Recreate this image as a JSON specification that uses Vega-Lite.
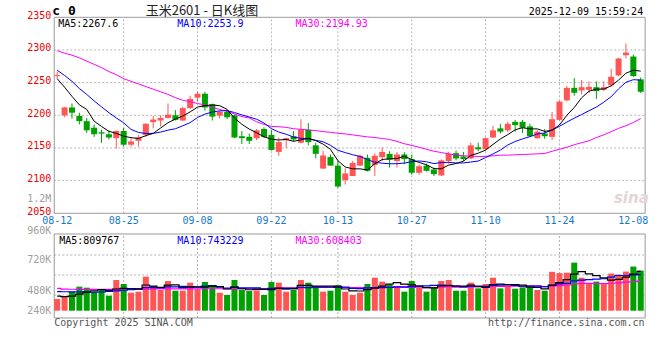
{
"$schema":"https://vega.github.io/schema/vega-lite/v6.json",
"width":660,"height":360,
"autosize":{"type":"none"},
"padding":0,
"background":"#ffffff",
"config":{"view":{"stroke":null},"font":"DejaVu Sans Mono"},
"datasets":{
"one":[{}],
"pl":[{"p":2050},{"p":2100},{"p":2150},{"p":2200},{"p":2250},{"p":2300},{"p":2350}],
"pg":[{"p":2100},{"p":2150},{"p":2200},{"p":2250},{"p":2300}],
"vg":[{"v":323420},{"v":735420},{"v":1147420}],
"vl":[{"t":"240K","v":-6180},{"t":"480K","v":412000},{"t":"720K","v":1038240},{"t":"960K","v":1631520},{"t":"1.2M","v":2294840}],
"k":[
{"i":0,"d":"08-12","o":2260,"h":2267,"l":2256,"c":2261.5,"m5":2256,"m10":2269,"m30":2299,"v":240000,"v5":302000,"v10":392000,"v30":460000},
{"i":1,"d":"08-13","o":2200,"h":2213,"l":2197,"c":2212,"m5":2243,"m10":2261,"m30":2295,"v":302000,"v5":288000,"v10":390000,"v30":445000},
{"i":2,"d":"08-14","o":2212,"h":2218,"l":2195,"c":2204,"m5":2229,"m10":2252,"m30":2292,"v":392000,"v5":302000,"v10":388000,"v30":442000},
{"i":3,"d":"08-15","o":2199,"h":2204,"l":2186,"c":2191,"m5":2216,"m10":2241,"m30":2288,"v":495000,"v5":343000,"v10":386000,"v30":440000},
{"i":4,"d":"08-18","o":2191,"h":2196,"l":2173,"c":2177,"m5":2209,"m10":2232,"m30":2283,"v":474000,"v5":380600,"v10":384000,"v30":440000},
{"i":5,"d":"08-19","o":2181,"h":2186,"l":2167,"c":2171,"m5":2191,"m10":2222,"m30":2278,"v":392000,"v5":411000,"v10":383000,"v30":440000},
{"i":6,"d":"08-20","o":2174,"h":2178,"l":2158,"c":2172,"m5":2183,"m10":2213,"m30":2273,"v":426000,"v5":435800,"v10":385000,"v30":440000},
{"i":7,"d":"08-21","o":2171,"h":2177,"l":2163,"c":2166,"m5":2175.4,"m10":2204,"m30":2267,"v":309000,"v5":419200,"v10":395000,"v30":441000},
{"i":8,"d":"08-22","o":2165,"h":2177,"l":2149,"c":2176,"m5":2172.4,"m10":2196,"m30":2262,"v":632000,"v5":446600,"v10":410000,"v30":442000},
{"i":9,"d":"08-25","o":2176,"h":2181,"l":2152,"c":2155,"m5":2168,"m10":2188.5,"m30":2256,"v":550000,"v5":461800,"v10":421200,"v30":443000},
{"i":10,"d":"08-26","o":2155,"h":2165,"l":2152,"c":2160,"m5":2165.8,"m10":2178.4,"m30":2252,"v":371000,"v5":457600,"v10":434300,"v30":444000},
{"i":11,"d":"08-27","o":2161,"h":2170,"l":2152,"c":2166,"m5":2164.6,"m10":2173.8,"m30":2248,"v":392000,"v5":450800,"v10":443300,"v30":445000},
{"i":12,"d":"08-28","o":2170,"h":2188,"l":2167,"c":2187,"m5":2168.8,"m10":2172.1,"m30":2244,"v":701000,"v5":529200,"v10":474200,"v30":446000},
{"i":13,"d":"08-29","o":2189.5,"h":2199,"l":2180,"c":2193.5,"m5":2172.3,"m10":2172.4,"m30":2240,"v":508000,"v5":504400,"v10":475500,"v30":447000},
{"i":14,"d":"09-01","o":2192,"h":2200,"l":2183,"c":2196,"m5":2180.5,"m10":2174.3,"m30":2236,"v":426000,"v5":479600,"v10":470700,"v30":448000},
{"i":15,"d":"09-02","o":2196,"h":2218,"l":2195,"c":2201,"m5":2188.7,"m10":2177.3,"m30":2232,"v":611000,"v5":527600,"v10":492600,"v30":449000},
{"i":16,"d":"09-03","o":2200,"h":2208,"l":2192,"c":2193,"m5":2194.1,"m10":2179.4,"m30":2227,"v":412000,"v5":531600,"v10":491200,"v30":450000},
{"i":17,"d":"09-04","o":2192,"h":2213,"l":2191,"c":2211,"m5":2198.9,"m10":2183.9,"m30":2223,"v":412000,"v5":473800,"v10":501500,"v30":450000},
{"i":18,"d":"09-05","o":2211,"h":2230,"l":2210,"c":2225,"m5":2205.2,"m10":2188.8,"m30":2221,"v":577000,"v5":487600,"v10":496000,"v30":451000},
{"i":19,"d":"09-08","o":2227,"h":2236,"l":2221,"c":2233,"m5":2212.6,"m10":2196.6,"m30":2218,"v":440000,"v5":490400,"v10":485000,"v30":451000},
{"i":20,"d":"09-09","o":2233,"h":2236,"l":2207,"c":2212,"m5":2214.8,"m10":2201.8,"m30":2216,"v":591000,"v5":486400,"v10":507000,"v30":452000},
{"i":21,"d":"09-10","o":2217,"h":2218,"l":2192,"c":2198,"m5":2215.8,"m10":2205,"m30":2212,"v":508000,"v5":505600,"v10":518600,"v30":452000},
{"i":22,"d":"09-11","o":2199.5,"h":2207,"l":2195,"c":2205.5,"m5":2214.7,"m10":2206.8,"m30":2209,"v":371000,"v5":497400,"v10":485600,"v30":452000},
{"i":23,"d":"09-12","o":2205,"h":2207,"l":2194,"c":2197,"m5":2209.1,"m10":2207.2,"m30":2206,"v":323000,"v5":446600,"v10":467100,"v30":453000},
{"i":24,"d":"09-15","o":2200,"h":2201,"l":2165,"c":2166,"m5":2195.7,"m10":2204.2,"m30":2202,"v":632000,"v5":485000,"v10":487700,"v30":453000},
{"i":25,"d":"09-16","o":2168,"h":2176,"l":2156,"c":2165,"m5":2186.3,"m10":2200.6,"m30":2198,"v":426000,"v5":452000,"v10":469200,"v30":453000},
{"i":26,"d":"09-17","o":2167,"h":2172,"l":2156,"c":2161,"m5":2178.9,"m10":2197.4,"m30":2196,"v":405000,"v5":431400,"v10":468500,"v30":454000},
{"i":27,"d":"09-18","o":2165,"h":2179,"l":2162,"c":2177,"m5":2173.2,"m10":2194,"m30":2190,"v":419000,"v5":441000,"v10":469200,"v30":454000},
{"i":28,"d":"09-19","o":2179,"h":2181.5,"l":2165,"c":2167,"m5":2167.2,"m10":2188.2,"m30":2186,"v":323000,"v5":441000,"v10":443800,"v30":454000},
{"i":29,"d":"09-22","o":2170,"h":2177.5,"l":2146,"c":2147,"m5":2163.4,"m10":2179.6,"m30":2183,"v":591000,"v5":432800,"v10":458900,"v30":455000},
{"i":30,"d":"09-23","o":2144,"h":2166,"l":2138,"c":2159,"m5":2162.2,"m10":2174.3,"m30":2182.5,"v":577000,"v5":463000,"v10":457500,"v30":466300},
{"i":31,"d":"09-24","o":2162,"h":2166,"l":2150,"c":2165,"m5":2163,"m10":2171,"m30":2181.5,"v":392000,"v5":460400,"v10":445900,"v30":469300},
{"i":32,"d":"09-25","o":2168,"h":2176,"l":2160,"c":2163,"m5":2160.2,"m10":2166.7,"m30":2179.5,"v":426000,"v5":461800,"v10":451400,"v30":470400},
{"i":33,"d":"09-26","o":2158,"h":2194,"l":2157,"c":2178,"m5":2162.4,"m10":2164.8,"m30":2178.5,"v":632000,"v5":523600,"v10":482300,"v30":475000},
{"i":34,"d":"09-29","o":2178,"h":2188,"l":2154,"c":2159,"m5":2164.8,"m10":2164.1,"m30":2177.5,"v":577000,"v5":520800,"v10":476800,"v30":478400},
{"i":35,"d":"09-30","o":2154,"h":2158,"l":2134,"c":2141,"m5":2161.2,"m10":2161.7,"m30":2176.5,"v":508000,"v5":507000,"v10":485000,"v30":482300},
{"i":36,"d":"10-09","o":2118.5,"h":2146,"l":2118,"c":2138.5,"m5":2155.9,"m10":2159.5,"m30":2175,"v":392000,"v5":507000,"v10":483700,"v30":481100},
{"i":37,"d":"10-10","o":2136,"h":2140,"l":2123,"c":2123,"m5":2147.9,"m10":2154.1,"m30":2174,"v":412000,"v5":504200,"v10":483000,"v30":484600},
{"i":38,"d":"10-13","o":2123,"h":2130,"l":2089,"c":2091,"m5":2130.5,"m10":2146.5,"m30":2172.5,"v":529000,"v5":483600,"v10":503600,"v30":481100},
{"i":39,"d":"10-14","o":2101,"h":2119,"l":2094,"c":2111,"m5":2120.9,"m10":2142.9,"m30":2171.5,"v":392000,"v5":446600,"v10":483700,"v30":475900},
{"i":40,"d":"10-15","o":2107,"h":2130,"l":2107,"c":2127,"m5":2118.1,"m10":2139.7,"m30":2170,"v":323000,"v5":409600,"v10":458300,"v30":474300},
{"i":41,"d":"10-16","o":2123,"h":2140,"l":2122,"c":2138,"m5":2118,"m10":2137,"m30":2168.5,"v":371000,"v5":405400,"v10":456200,"v30":473600},
{"i":42,"d":"10-17","o":2135,"h":2140,"l":2114,"c":2115,"m5":2116.4,"m10":2132.2,"m30":2167,"v":550000,"v5":433000,"v10":468600,"v30":468500},
{"i":43,"d":"10-20","o":2124,"h":2142,"l":2107,"c":2138,"m5":2125.8,"m10":2128.2,"m30":2166,"v":680000,"v5":463200,"v10":473400,"v30":474300},
{"i":44,"d":"10-21","o":2136,"h":2151,"l":2130,"c":2144,"m5":2132.4,"m10":2126.7,"m30":2164.5,"v":598000,"v5":504400,"v10":475500,"v30":480000},
{"i":45,"d":"10-22","o":2141,"h":2145,"l":2120,"c":2132,"m5":2133.4,"m10":2125.8,"m30":2163,"v":550000,"v5":549800,"v10":479700,"v30":478000},
{"i":46,"d":"10-23","o":2130,"h":2144,"l":2120,"c":2140,"m5":2133.8,"m10":2125.9,"m30":2160,"v":508000,"v5":577200,"v10":491300,"v30":481200},
{"i":47,"d":"10-24","o":2140,"h":2143.5,"l":2125,"c":2133,"m5":2137.4,"m10":2126.9,"m30":2156.5,"v":392000,"v5":545600,"v10":489300,"v30":480500},
{"i":48,"d":"10-27","o":2133,"h":2140,"l":2109,"c":2112,"m5":2132.2,"m10":2129,"m30":2154,"v":611000,"v5":531800,"v10":497500,"v30":481600},
{"i":49,"d":"10-28","o":2112,"h":2125,"l":2109,"c":2122,"m5":2127.8,"m10":2130.1,"m30":2151,"v":474000,"v5":507000,"v10":505700,"v30":482800},
{"i":50,"d":"10-29","o":2123,"h":2126,"l":2114,"c":2115,"m5":2124.4,"m10":2128.9,"m30":2148,"v":392000,"v5":475400,"v10":512600,"v30":476100},
{"i":51,"d":"10-30","o":2117,"h":2120,"l":2107,"c":2110,"m5":2118.4,"m10":2126.1,"m30":2145,"v":474000,"v5":468600,"v10":522900,"v30":475000},
{"i":52,"d":"10-31","o":2108,"h":2132.5,"l":2107,"c":2131,"m5":2118,"m10":2127.7,"m30":2143,"v":611000,"v5":512400,"v10":529000,"v30":483000},
{"i":53,"d":"11-03","o":2130,"h":2144,"l":2126,"c":2141,"m5":2123.8,"m10":2128,"m30":2141,"v":632000,"v5":516600,"v10":524200,"v30":493300},
{"i":54,"d":"11-04","o":2142,"h":2146,"l":2131,"c":2134,"m5":2126.2,"m10":2127,"m30":2139,"v":412000,"v5":504200,"v10":505600,"v30":486000},
{"i":55,"d":"11-05","o":2137,"h":2144,"l":2130,"c":2133,"m5":2129.8,"m10":2127.1,"m30":2138,"v":412000,"v5":508200,"v10":491800,"v30":485500},
{"i":56,"d":"11-06","o":2134,"h":2158,"l":2133,"c":2154,"m5":2138.6,"m10":2128.5,"m30":2137.5,"v":577000,"v5":528800,"v10":498700,"v30":491200},
{"i":57,"d":"11-07","o":2151,"h":2158,"l":2145,"c":2148,"m5":2142,"m10":2130,"m30":2137,"v":460000,"v5":498600,"v10":505500,"v30":492600},
{"i":58,"d":"11-10","o":2148,"h":2166,"l":2147,"c":2165,"m5":2146.8,"m10":2135.3,"m30":2137,"v":550000,"v5":482200,"v10":499400,"v30":500200},
{"i":59,"d":"11-11","o":2166,"h":2184,"l":2165,"c":2177,"m5":2155.4,"m10":2140.8,"m30":2138,"v":680000,"v5":535800,"v10":520000,"v30":503100},
{"i":60,"d":"11-12","o":2180,"h":2187,"l":2172,"c":2175,"m5":2163.8,"m10":2146.8,"m30":2139,"v":460000,"v5":545400,"v10":526800,"v30":499200},
{"i":61,"d":"11-13","o":2177,"h":2190,"l":2174,"c":2187,"m5":2170.4,"m10":2154.5,"m30":2139,"v":550000,"v5":540000,"v10":534400,"v30":504500},
{"i":62,"d":"11-14","o":2190,"h":2193,"l":2175,"c":2185,"m5":2177.8,"m10":2159.9,"m30":2139.5,"v":453000,"v5":538600,"v10":518600,"v30":505400},
{"i":63,"d":"11-17","o":2190,"h":2193,"l":2173,"c":2181,"m5":2181,"m10":2163.9,"m30":2140,"v":481000,"v5":524800,"v10":503500,"v30":500400},
{"i":64,"d":"11-18","o":2183,"h":2187,"l":2167,"c":2168,"m5":2179.2,"m10":2167.3,"m30":2140.5,"v":481000,"v5":485000,"v10":510400,"v30":497200},
{"i":65,"d":"11-19","o":2165,"h":2177,"l":2164,"c":2175,"m5":2179.2,"m10":2171.5,"m30":2141,"v":426000,"v5":478200,"v10":511800,"v30":494400},
{"i":66,"d":"11-20","o":2172,"h":2179,"l":2164,"c":2168,"m5":2175.4,"m10":2172.9,"m30":2141.5,"v":412000,"v5":450600,"v10":495300,"v30":495100},
{"i":67,"d":"11-21","o":2167,"h":2205,"l":2162,"c":2194,"m5":2177.2,"m10":2177.5,"m30":2145,"v":800000,"v5":520000,"v10":529300,"v30":508000},
{"i":68,"d":"11-24","o":2193,"h":2222,"l":2192,"c":2221,"m5":2185.2,"m10":2183.1,"m30":2148,"v":774000,"v5":578600,"v10":551700,"v30":516200},
{"i":69,"d":"11-25","o":2223,"h":2245,"l":2221,"c":2242,"m5":2200,"m10":2189.6,"m30":2151,"v":783000,"v5":639000,"v10":562000,"v30":529200},
{"i":70,"d":"11-26","o":2242,"h":2257,"l":2230,"c":2234.5,"m5":2211.9,"m10":2195.6,"m30":2155,"v":990000,"v5":751800,"v10":615000,"v30":551500},
{"i":71,"d":"11-27","o":2238,"h":2254,"l":2232,"c":2243,"m5":2226.9,"m10":2201.2,"m30":2158,"v":680000,"v5":805400,"v10":628000,"v30":561800},
{"i":72,"d":"11-28","o":2239,"h":2252,"l":2234,"c":2243.5,"m5":2236.8,"m10":2207,"m30":2161,"v":565000,"v5":758400,"v10":639200,"v30":562300},
{"i":73,"d":"12-01","o":2243,"h":2252,"l":2225,"c":2237,"m5":2240,"m10":2212.6,"m30":2166,"v":600000,"v5":723600,"v10":651100,"v30":559600},
{"i":74,"d":"12-02","o":2239,"h":2252,"l":2237,"c":2243,"m5":2240.2,"m10":2220.1,"m30":2170,"v":547000,"v5":676400,"v10":657700,"v30":557900},
{"i":75,"d":"12-03","o":2246,"h":2271,"l":2244,"c":2259,"m5":2245.1,"m10":2228.5,"m30":2175,"v":765000,"v5":631400,"v10":691600,"v30":565100},
{"i":76,"d":"12-04","o":2261,"h":2288,"l":2260,"c":2287,"m5":2253.9,"m10":2240.4,"m30":2180,"v":744000,"v5":644200,"v10":724800,"v30":572900},
{"i":77,"d":"12-05","o":2292,"h":2310,"l":2287,"c":2296,"m5":2264.4,"m10":2250.6,"m30":2184,"v":806000,"v5":692400,"v10":725400,"v30":586700},
{"i":78,"d":"12-08","o":2290,"h":2293,"l":2259,"c":2260,"m5":2269,"m10":2254.5,"m30":2189,"v":909000,"v5":754200,"v10":738900,"v30":596700},
{"i":79,"d":"12-09","o":2255,"h":2258,"l":2234,"c":2236,"m5":2267.6,"m10":2253.9,"m30":2194.93,"v":826000,"v5":809767,"v10":743229,"v30":608403}
]},
"layer":[
{"layer":[
{"data":{"name":"pg"},"mark":{"type":"rule","color":"#B4B4B4","strokeDash":[2,2],"strokeWidth":1},
 "encoding":{"x":{"datum":-0.4,"type":"quantitative","scale":{"domain":[-7.0667,80.9333],"nice":false,"zero":false},"axis":null},"x2":{"datum":79.6},
 "y":{"field":"p","type":"quantitative","scale":{"domain":[1825.46,2376.48],"nice":false,"zero":false},"axis":null}}},
{"data":{"name":"k"},"transform":[{"filter":"indexof([9,19,29,38,48,58,68], datum.i) >= 0"}],"mark":{"type":"rule","color":"#B4B4B4","strokeDash":[2,2],"strokeWidth":1},
 "encoding":{"x":{"field":"i","type":"quantitative","scale":{"domain":[-7.0667,80.9333],"nice":false,"zero":false},"axis":null},
 "y":{"datum":2050,"type":"quantitative","scale":{"domain":[1825.46,2376.48],"nice":false,"zero":false},"axis":null},"y2":{"datum":2350}}},
{"data":{"name":"one"},"mark":{"type":"rect","filled":false,"color":"#9A9A9A","strokeWidth":1},
 "encoding":{"x":{"datum":-0.4,"type":"quantitative","scale":{"domain":[-7.0667,80.9333],"nice":false,"zero":false},"axis":null},"x2":{"datum":79.6},
 "y":{"datum":2050,"type":"quantitative","scale":{"domain":[1825.46,2376.48],"nice":false,"zero":false},"axis":null},"y2":{"datum":2350}}},
{"data":{"name":"pl"},"mark":{"type":"text","align":"right","baseline":"middle","dy":-1.5,"font":"DejaVu Sans Mono","fontSize":10,"color":"#F00000"},
 "encoding":{"x":{"datum":-0.8,"type":"quantitative","scale":{"domain":[-7.0667,80.9333],"nice":false,"zero":false},"axis":null},
 "y":{"field":"p","type":"quantitative","scale":{"domain":[1825.46,2376.48],"nice":false,"zero":false},"axis":null},
 "text":{"field":"p","type":"quantitative","format":"d"}}},
{"data":{"name":"k"},"transform":[{"filter":"indexof([0,9,19,29,38,48,58,68,78], datum.i) >= 0"}],"mark":{"type":"text","align":"center","baseline":"middle","font":"DejaVu Sans Mono","fontSize":10,"color":"#1479C6"},
 "encoding":{"x":{"field":"i","type":"quantitative","scale":{"domain":[-7.0667,80.9333],"nice":false,"zero":false},"axis":null},
 "y":{"datum":2037.45,"type":"quantitative","scale":{"domain":[1825.46,2376.48],"nice":false,"zero":false},"axis":null},
 "text":{"field":"d","type":"nominal"}}},
{"data":{"name":"k"},"mark":{"type":"rule","strokeWidth":1},
 "encoding":{"x":{"field":"i","type":"quantitative","scale":{"domain":[-7.0667,80.9333],"nice":false,"zero":false},"axis":null},
 "y":{"field":"l","type":"quantitative","scale":{"domain":[1825.46,2376.48],"nice":false,"zero":false},"axis":null},"y2":{"field":"h"},
 "color":{"condition":{"test":"datum.c >= datum.o","value":"#FF5555"},"value":"#00A000"}}},
{"data":{"name":"k"},"mark":{"type":"bar","width":6,"orient":"vertical"},
 "encoding":{"x":{"field":"i","type":"quantitative","scale":{"domain":[-7.0667,80.9333],"nice":false,"zero":false},"axis":null},
 "y":{"field":"o","type":"quantitative","scale":{"domain":[1825.46,2376.48],"nice":false,"zero":false},"axis":null},
 "y2":{"field":"c"},
 "color":{"condition":{"test":"datum.c >= datum.o","value":"#FF5555"},"value":"#00A000"}}},
{"data":{"name":"k"},"mark":{"type":"line","color":"#FF00FF","strokeWidth":1},
 "encoding":{"x":{"field":"i","type":"quantitative","scale":{"domain":[-7.0667,80.9333],"nice":false,"zero":false},"axis":null},
 "y":{"field":"m30","type":"quantitative","scale":{"domain":[1825.46,2376.48],"nice":false,"zero":false},"axis":null}}},
{"data":{"name":"k"},"mark":{"type":"line","color":"#0000FF","strokeWidth":1},
 "encoding":{"x":{"field":"i","type":"quantitative","scale":{"domain":[-7.0667,80.9333],"nice":false,"zero":false},"axis":null},
 "y":{"field":"m10","type":"quantitative","scale":{"domain":[1825.46,2376.48],"nice":false,"zero":false},"axis":null}}},
{"data":{"name":"k"},"mark":{"type":"line","color":"#000000","strokeWidth":1},
 "encoding":{"x":{"field":"i","type":"quantitative","scale":{"domain":[-7.0667,80.9333],"nice":false,"zero":false},"axis":null},
 "y":{"field":"m5","type":"quantitative","scale":{"domain":[1825.46,2376.48],"nice":false,"zero":false},"axis":null}}},
{"data":{"name":"one"},"mark":{"type":"text","text":"c 0","align":"left","baseline":"middle","font":"DejaVu Sans Mono","fontSize":13,"fontWeight":"bold","color":"#000000"},
 "encoding":{"x":{"datum":-0.667,"type":"quantitative","scale":{"domain":[-7.0667,80.9333],"nice":false,"zero":false},"axis":null},
 "y":{"datum":2359.6,"type":"quantitative","scale":{"domain":[1825.46,2376.48],"nice":false,"zero":false},"axis":null}}},
{"data":{"name":"one"},"mark":{"type":"text","text":"玉米2601 - 日K线图","align":"center","baseline":"middle","font":"Noto Sans CJK SC","fontSize":13,"color":"#222222"},
 "encoding":{"x":{"datum":19.6,"type":"quantitative","scale":{"domain":[-7.0667,80.9333],"nice":false,"zero":false},"axis":null},
 "y":{"datum":2360.4,"type":"quantitative","scale":{"domain":[1825.46,2376.48],"nice":false,"zero":false},"axis":null}}},
{"data":{"name":"one"},"mark":{"type":"text","text":"2025-12-09 15:59:24","align":"right","baseline":"middle","font":"DejaVu Sans Mono","fontSize":10,"color":"#000000"},
 "encoding":{"x":{"datum":79.33,"type":"quantitative","scale":{"domain":[-7.0667,80.9333],"nice":false,"zero":false},"axis":null},
 "y":{"datum":2358.6,"type":"quantitative","scale":{"domain":[1825.46,2376.48],"nice":false,"zero":false},"axis":null}}},
{"data":{"name":"one"},"mark":{"type":"text","text":"MA5:2267.6","align":"left","baseline":"middle","font":"DejaVu Sans Mono","fontSize":10,"color":"#000000"},
 "encoding":{"x":{"datum":0.133,"type":"quantitative","scale":{"domain":[-7.0667,80.9333],"nice":false,"zero":false},"axis":null},
 "y":{"datum":2339.7,"type":"quantitative","scale":{"domain":[1825.46,2376.48],"nice":false,"zero":false},"axis":null}}},
{"data":{"name":"one"},"mark":{"type":"text","text":"MA10:2253.9","align":"left","baseline":"middle","font":"DejaVu Sans Mono","fontSize":10,"color":"#0000FF"},
 "encoding":{"x":{"datum":16.267,"type":"quantitative","scale":{"domain":[-7.0667,80.9333],"nice":false,"zero":false},"axis":null},
 "y":{"datum":2339.7,"type":"quantitative","scale":{"domain":[1825.46,2376.48],"nice":false,"zero":false},"axis":null}}},
{"data":{"name":"one"},"mark":{"type":"text","text":"MA30:2194.93","align":"left","baseline":"middle","font":"DejaVu Sans Mono","fontSize":10,"color":"#FF00FF"},
 "encoding":{"x":{"datum":32.267,"type":"quantitative","scale":{"domain":[-7.0667,80.9333],"nice":false,"zero":false},"axis":null},
 "y":{"datum":2339.7,"type":"quantitative","scale":{"domain":[1825.46,2376.48],"nice":false,"zero":false},"axis":null}}},
{"data":{"name":"one"},"mark":{"type":"text","text":"sina","align":"center","baseline":"middle","font":"DejaVu Sans","fontSize":15,"fontWeight":"bold","fontStyle":"italic","color":"#E2D6D6"},
 "encoding":{"x":{"datum":77.73,"type":"quantitative","scale":{"domain":[-7.0667,80.9333],"nice":false,"zero":false},"axis":null},
 "y":{"datum":2073.4,"type":"quantitative","scale":{"domain":[1825.46,2376.48],"nice":false,"zero":false},"axis":null}}}
]},
{"layer":[
{"data":{"name":"vg"},"mark":{"type":"rule","color":"#B4B4B4","strokeDash":[2,2],"strokeWidth":1},
 "encoding":{"x":{"datum":-0.4,"type":"quantitative","scale":{"domain":[-7.0667,80.9333],"nice":false,"zero":false},"axis":null},"x2":{"datum":79.6},
 "y":{"field":"v","type":"quantitative","scale":{"domain":[-1015600,6400420],"nice":false,"zero":false},"axis":null}}},
{"data":{"name":"k"},"transform":[{"filter":"indexof([9,19,29,38,48,58,68], datum.i) >= 0"}],"mark":{"type":"rule","color":"#B4B4B4","strokeDash":[2,2],"strokeWidth":1},
 "encoding":{"x":{"field":"i","type":"quantitative","scale":{"domain":[-7.0667,80.9333],"nice":false,"zero":false},"axis":null},
 "y":{"datum":-150380,"type":"quantitative","scale":{"domain":[-1015600,6400420],"nice":false,"zero":false},"axis":null},"y2":{"datum":1580020}}},
{"data":{"name":"one"},"mark":{"type":"rect","filled":false,"color":"#9A9A9A","strokeWidth":1},
 "encoding":{"x":{"datum":-0.4,"type":"quantitative","scale":{"domain":[-7.0667,80.9333],"nice":false,"zero":false},"axis":null},"x2":{"datum":79.6},
 "y":{"datum":-150380,"type":"quantitative","scale":{"domain":[-1015600,6400420],"nice":false,"zero":false},"axis":null},"y2":{"datum":1580020}}},
{"data":{"name":"vl"},"mark":{"type":"text","align":"right","baseline":"middle","font":"DejaVu Sans Mono","fontSize":10,"color":"#A0A0A0"},
 "encoding":{"x":{"datum":-0.8,"type":"quantitative","scale":{"domain":[-7.0667,80.9333],"nice":false,"zero":false},"axis":null},
 "y":{"field":"v","type":"quantitative","scale":{"domain":[-1015600,6400420],"nice":false,"zero":false},"axis":null},
 "text":{"field":"t","type":"nominal"}}},
{"data":{"name":"k"},"mark":{"type":"bar","width":6,"orient":"vertical"},
 "encoding":{"x":{"field":"i","type":"quantitative","scale":{"domain":[-7.0667,80.9333],"nice":false,"zero":false},"axis":null},
 "y":{"field":"v","type":"quantitative","scale":{"domain":[-1015600,6400420],"nice":false,"zero":false},"axis":null},
 "y2":{"datum":0},
 "color":{"condition":{"test":"datum.c >= datum.o","value":"#FF5555"},"value":"#00A000"}}},
{"data":{"name":"k"},"mark":{"type":"line","color":"#FF00FF","strokeWidth":1.2,"interpolate":"step"},
 "encoding":{"x":{"field":"i","type":"quantitative","scale":{"domain":[-7.0667,80.9333],"nice":false,"zero":false},"axis":null},
 "y":{"field":"v30","type":"quantitative","scale":{"domain":[-1015600,6400420],"nice":false,"zero":false},"axis":null}}},
{"data":{"name":"k"},"mark":{"type":"line","color":"#0000FF","strokeWidth":1.2,"interpolate":"step"},
 "encoding":{"x":{"field":"i","type":"quantitative","scale":{"domain":[-7.0667,80.9333],"nice":false,"zero":false},"axis":null},
 "y":{"field":"v10","type":"quantitative","scale":{"domain":[-1015600,6400420],"nice":false,"zero":false},"axis":null}}},
{"data":{"name":"k"},"mark":{"type":"line","color":"#000000","strokeWidth":1.2,"interpolate":"step"},
 "encoding":{"x":{"field":"i","type":"quantitative","scale":{"domain":[-7.0667,80.9333],"nice":false,"zero":false},"axis":null},
 "y":{"field":"v5","type":"quantitative","scale":{"domain":[-1015600,6400420],"nice":false,"zero":false},"axis":null}}},
{"data":{"name":"one"},"mark":{"type":"text","text":"MA5:809767","align":"left","baseline":"middle","font":"DejaVu Sans Mono","fontSize":10,"color":"#000000"},
 "encoding":{"x":{"datum":0.267,"type":"quantitative","scale":{"domain":[-7.0667,80.9333],"nice":false,"zero":false},"axis":null},
 "y":{"datum":1429640,"type":"quantitative","scale":{"domain":[-1015600,6400420],"nice":false,"zero":false},"axis":null}}},
{"data":{"name":"one"},"mark":{"type":"text","text":"MA10:743229","align":"left","baseline":"middle","font":"DejaVu Sans Mono","fontSize":10,"color":"#0000FF"},
 "encoding":{"x":{"datum":16.267,"type":"quantitative","scale":{"domain":[-7.0667,80.9333],"nice":false,"zero":false},"axis":null},
 "y":{"datum":1429640,"type":"quantitative","scale":{"domain":[-1015600,6400420],"nice":false,"zero":false},"axis":null}}},
{"data":{"name":"one"},"mark":{"type":"text","text":"MA30:608403","align":"left","baseline":"middle","font":"DejaVu Sans Mono","fontSize":10,"color":"#FF00FF"},
 "encoding":{"x":{"datum":32.267,"type":"quantitative","scale":{"domain":[-7.0667,80.9333],"nice":false,"zero":false},"axis":null},
 "y":{"datum":1429640,"type":"quantitative","scale":{"domain":[-1015600,6400420],"nice":false,"zero":false},"axis":null}}},
{"data":{"name":"one"},"mark":{"type":"text","text":"Copyright 2025 SINA.COM","align":"left","baseline":"middle","font":"DejaVu Sans Mono","fontSize":10,"color":"#555555"},
 "encoding":{"x":{"datum":-0.4,"type":"quantitative","scale":{"domain":[-7.0667,80.9333],"nice":false,"zero":false},"axis":null},
 "y":{"datum":-263680,"type":"quantitative","scale":{"domain":[-1015600,6400420],"nice":false,"zero":false},"axis":null}}},
{"data":{"name":"one"},"mark":{"type":"text","text":"http://finance.sina.com.cn","align":"right","baseline":"middle","font":"DejaVu Sans Mono","fontSize":10,"color":"#555555"},
 "encoding":{"x":{"datum":79.53,"type":"quantitative","scale":{"domain":[-7.0667,80.9333],"nice":false,"zero":false},"axis":null},
 "y":{"datum":-263680,"type":"quantitative","scale":{"domain":[-1015600,6400420],"nice":false,"zero":false},"axis":null}}}
]}
],
"resolve":{"scale":{"y":"independent"}}
}
